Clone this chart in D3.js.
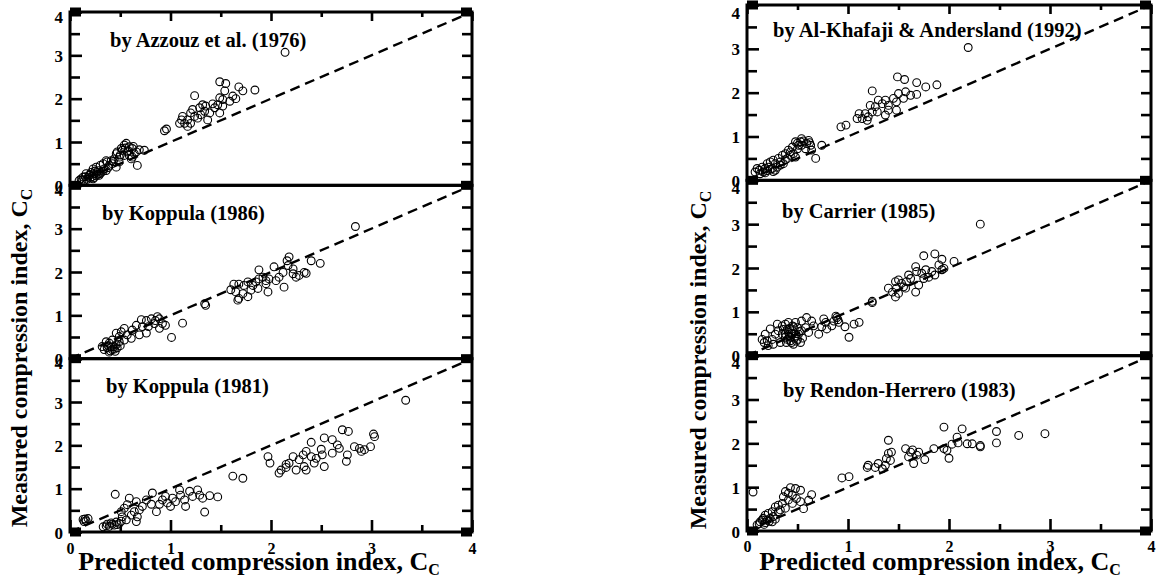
<!DOCTYPE html>
<html>
<head>
<meta charset="utf-8">
<script src="https://cdn.jsdelivr.net/npm/d3@7/dist/d3.min.js"></script>
<style>
  body { margin: 0; background: #fff; }
  svg text { font-family: "Liberation Serif", "Times New Roman", serif; font-weight: bold; fill: #000; }
</style>
</head>
<body>
<svg id="chart" width="1161" height="587"></svg>
<script>
// Predicted vs measured compression index, [predicted, measured]
const azzouz1976 = [
  [2.14,3.07],[1.49,2.39],[1.55,2.35],[1.68,2.27],[1.72,2.18],[1.84,2.20],[1.24,2.07],[1.54,2.18],[1.52,1.98],[1.59,1.94],
  [1.65,2.00],[1.49,2.02],[1.47,1.86],[1.44,1.79],[1.42,1.88],[1.35,1.83],[1.32,1.86],[1.29,1.79],[1.22,1.75],[1.20,1.67],
  [1.24,1.59],[1.30,1.63],[1.34,1.71],[1.39,1.67],[1.37,1.51],[1.49,1.67],[1.11,1.51],[1.14,1.43],[1.17,1.36],[1.09,1.43],
  [1.12,1.59],[1.17,1.51],[1.20,1.43],[1.27,1.55],[1.62,2.06],[1.52,1.83],[0.94,1.26],[0.96,1.30],
  [0.74,0.81],[0.56,0.97],[0.54,0.93],[0.59,0.89],[0.62,0.85],[0.66,0.77],[0.67,0.46],[0.51,0.85],[0.47,0.77],[0.49,0.65],
  [0.44,0.61],[0.46,0.73],[0.41,0.57],[0.37,0.54],[0.36,0.57],[0.33,0.50],[0.30,0.46],[0.26,0.42],[0.23,0.38],[0.21,0.30],
  [0.16,0.27],[0.13,0.19],[0.11,0.15],[0.09,0.11],[0.18,0.19],[0.24,0.27],[0.28,0.34],[0.31,0.30],[0.34,0.38],[0.39,0.46],
  [0.42,0.50],[0.54,0.69],[0.59,0.69],[0.62,0.65],[0.57,0.77],[0.52,0.81],[0.64,0.73],[0.61,0.61],[0.49,0.54],[0.46,0.42],
  [0.36,0.34],[0.29,0.23],[0.23,0.15],[0.19,0.23],[0.14,0.11],[0.15,0.20],[0.20,0.25],[0.22,0.20],[0.26,0.22],[0.17,0.14],
  [0.12,0.12],[0.27,0.30],[0.25,0.33],[0.20,0.17],[0.30,0.27],[0.24,0.18],[0.28,0.26],[0.33,0.33],[0.38,0.41],[0.43,0.55],
  [0.50,0.70],[0.55,0.86],[0.58,0.80],[0.63,0.90],[0.69,0.82]
];
const koppula1986 = [
  [2.84,3.05],[2.18,2.35],[2.16,2.26],[2.40,2.26],[2.49,2.20],[1.88,2.05],[2.03,2.12],[2.17,2.15],[2.12,1.99],[2.22,1.96],
  [2.28,1.92],[2.33,1.99],[2.35,1.97],[2.08,1.88],[1.98,1.84],[1.95,1.80],[1.92,1.88],[1.88,1.84],[1.85,1.77],[1.82,1.69],
  [1.77,1.77],[1.73,1.69],[1.68,1.72],[1.63,1.72],[1.60,1.59],[1.65,1.54],[1.68,1.39],[1.77,1.43],[1.67,1.35],[1.72,1.50],
  [1.80,1.58],[1.97,1.54],[2.05,1.80],[2.13,1.65],[2.25,1.88],[2.22,2.07],[1.95,1.73],[1.87,1.62],
  [1.34,1.27],[1.35,1.23],[1.12,0.82],[1.01,0.49],
  [0.87,0.97],[0.81,0.92],[0.76,0.88],[0.84,0.81],[0.92,0.81],[0.95,0.77],[0.89,0.70],[0.72,0.74],[0.66,0.77],[0.62,0.66],
  [0.76,0.59],[0.69,0.55],[0.54,0.70],[0.57,0.55],[0.49,0.51],[0.51,0.62],[0.46,0.59],[0.42,0.43],[0.46,0.32],[0.39,0.36],
  [0.37,0.25],[0.34,0.21],[0.42,0.21],[0.47,0.25],[0.39,0.15],[0.32,0.28],[0.36,0.39],[0.44,0.28],[0.49,0.39],[0.54,0.43],
  [0.61,0.47],[0.78,0.74],[0.85,0.88],[0.89,0.92],[0.71,0.90],[0.40,0.18],[0.44,0.22],[0.41,0.27],[0.45,0.17],[0.38,0.30],
  [0.50,0.30]
];
const koppula1981 = [
  [3.34,3.04],[2.71,2.36],[2.77,2.32],[3.02,2.26],[3.03,2.20],[2.53,2.17],[2.61,2.13],[2.66,2.01],[2.68,1.93],[2.40,2.07],
  [2.50,1.91],[2.51,1.78],[2.83,1.97],[2.88,1.93],[2.90,1.86],[2.99,1.97],[2.93,1.90],[2.76,1.78],[2.75,1.63],[2.61,1.82],
  [2.53,1.51],[2.43,1.59],[2.40,1.74],[2.35,1.86],[2.32,1.78],[2.28,1.67],[2.33,1.51],[2.35,1.43],[2.25,1.43],[2.22,1.74],
  [2.18,1.59],[2.15,1.56],[2.10,1.43],[2.08,1.36],[2.15,1.49],[1.97,1.74],[1.99,1.59],[2.45,1.70],
  [1.62,1.29],[1.72,1.24],[0.45,0.87],[1.34,0.46],
  [1.47,0.81],[1.39,0.84],[1.27,0.97],[1.19,0.94],[1.09,0.97],[1.10,0.85],[1.22,0.82],[1.14,0.74],[1.05,0.70],[1.00,0.59],
  [1.02,0.78],[0.95,0.82],[0.92,0.74],[0.97,0.67],[0.89,0.64],[0.82,0.90],[0.76,0.74],[0.81,0.64],[0.72,0.59],[0.69,0.51],
  [0.64,0.47],[0.59,0.78],[0.66,0.70],[0.57,0.63],[0.54,0.55],[0.51,0.47],[0.61,0.39],[0.67,0.35],[0.66,0.24],[0.52,0.35],
  [0.56,0.28],[1.29,0.85],[1.32,0.78],[1.15,0.59],[0.86,0.47],
  [0.13,0.29],[0.16,0.26],[0.18,0.31],[0.14,0.24],[0.15,0.30],[0.33,0.12],[0.37,0.18],[0.41,0.21],[0.46,0.23],[0.49,0.20],
  [0.36,0.14],[0.44,0.16],[0.39,0.13],[0.42,0.18],[0.47,0.17],[0.51,0.25]
];
const alKhafaji1992 = [
  [2.19,3.03],[1.49,2.36],[1.56,2.30],[1.68,2.23],[1.77,2.13],[1.88,2.18],[1.24,2.04],[1.50,1.98],[1.57,2.02],[1.62,1.94],
  [1.68,1.96],[1.55,1.87],[1.48,1.79],[1.45,1.87],[1.40,1.71],[1.48,1.60],[1.37,1.83],[1.30,1.83],[1.34,1.75],[1.27,1.68],
  [1.22,1.71],[1.24,1.56],[1.37,1.49],[1.40,1.60],[1.11,1.52],[1.14,1.41],[1.19,1.37],[1.09,1.41],[1.17,1.52],[1.20,1.45],
  [1.29,1.56],[0.93,1.22],[0.98,1.26],
  [0.74,0.80],[0.54,0.95],[0.53,0.88],[0.61,0.91],[0.63,0.80],[0.68,0.50],[0.48,0.88],[0.45,0.76],[0.50,0.72],[0.41,0.69],
  [0.46,0.61],[0.38,0.61],[0.35,0.57],[0.31,0.50],[0.26,0.46],[0.23,0.42],[0.20,0.38],[0.15,0.30],[0.12,0.23],[0.08,0.19],
  [0.10,0.27],[0.18,0.27],[0.21,0.30],[0.28,0.38],[0.33,0.42],[0.40,0.50],[0.43,0.57],[0.54,0.80],[0.58,0.72],[0.64,0.69],
  [0.59,0.84],[0.51,0.80],[0.48,0.53],[0.36,0.38],[0.25,0.27],[0.16,0.19],[0.13,0.15],[0.28,0.23],[0.20,0.22],[0.23,0.25],
  [0.30,0.30],[0.18,0.17],[0.26,0.20],[0.33,0.35],[0.38,0.47],[0.43,0.65],[0.50,0.85],[0.56,0.90],[0.62,0.86]
];
const carrier1985 = [
  [2.31,3.00],[1.75,2.28],[1.86,2.32],[1.93,2.20],[2.05,2.15],[1.95,1.99],[1.90,2.07],[1.67,2.03],[1.68,1.92],[1.77,1.96],
  [1.83,1.92],[1.86,1.84],[1.75,1.76],[1.80,1.79],[1.70,1.61],[1.67,1.45],[1.62,1.76],[1.58,1.69],[1.53,1.65],[1.50,1.73],
  [1.47,1.69],[1.48,1.54],[1.47,1.34],[1.44,1.45],[1.40,1.54],[1.57,1.54],[1.60,1.84],[1.55,1.57],[1.50,1.42],[1.93,1.96],
  [1.73,1.88],[1.24,1.21],[1.24,1.24],
  [0.89,0.87],[0.86,0.79],[0.91,0.76],[0.84,0.68],[0.78,0.76],[0.74,0.66],[0.79,0.61],[0.71,0.49],[1.01,0.42],[1.06,0.72],
  [1.11,0.76],[0.97,0.66],[0.76,0.84],[0.88,0.90],[0.90,0.82],
  [0.59,0.87],[0.54,0.79],[0.48,0.76],[0.45,0.68],[0.41,0.76],[0.38,0.72],[0.35,0.68],[0.30,0.72],[0.23,0.61],[0.18,0.49],
  [0.17,0.30],[0.15,0.37],[0.20,0.34],[0.25,0.37],[0.28,0.49],[0.31,0.57],[0.35,0.49],[0.38,0.42],[0.41,0.53],[0.45,0.57],
  [0.48,0.45],[0.51,0.49],[0.54,0.57],[0.58,0.64],[0.61,0.53],[0.64,0.79],[0.66,0.68],[0.50,0.37],[0.43,0.34],[0.46,0.26],
  [0.53,0.30],[0.26,0.26],[0.21,0.23],[0.33,0.30],[0.40,0.37],[0.36,0.60],[0.50,0.64],[0.42,0.45],[0.44,0.50],[0.47,0.40],
  [0.40,0.60],[0.46,0.66],[0.52,0.55],[0.38,0.50],[0.43,0.42],[0.49,0.33],[0.55,0.40],[0.44,0.30],[0.39,0.30],[0.42,0.62]
];
const rendonHerrero1983 = [
  [1.95,2.37],[2.13,2.33],[2.69,2.18],[2.95,2.22],[2.47,2.27],[2.47,2.01],[2.31,1.95],[2.31,1.92],[2.23,1.99],[2.18,1.99],
  [2.09,2.01],[2.08,2.14],[2.03,1.98],[1.98,1.84],[2.00,1.66],[1.95,1.88],[1.85,1.88],[1.76,1.63],[1.65,1.54],[1.68,1.73],
  [1.62,1.80],[1.57,1.88],[1.60,1.69],[1.64,1.85],[1.70,1.80],[1.40,2.07],[1.40,1.77],[1.43,1.80],[1.38,1.65],[1.42,1.61],
  [1.30,1.54],[1.27,1.45],[1.20,1.50],[1.19,1.45],[1.34,1.42],[1.37,1.50],[0.94,1.21],[1.01,1.24],[0.06,0.89],
  [0.64,0.83],[0.56,0.51],[0.53,0.93],[0.48,0.97],[0.43,0.99],[0.45,0.82],[0.41,0.86],[0.38,0.90],[0.36,0.78],[0.49,0.74],
  [0.53,0.67],[0.45,0.63],[0.35,0.63],[0.31,0.59],[0.28,0.55],[0.38,0.52],[0.33,0.48],[0.25,0.44],[0.21,0.40],[0.18,0.36],
  [0.16,0.29],[0.20,0.25],[0.13,0.21],[0.12,0.17],[0.10,0.14],[0.23,0.29],[0.26,0.33],[0.15,0.25],[0.18,0.19],[0.25,0.21],
  [0.31,0.44],[0.41,0.71],[0.61,0.70],[0.22,0.22],[0.17,0.15],[0.28,0.27]
];

const panelTitles = [
  "by Azzouz et al. (1976)", "by Koppula (1986)", "by Koppula (1981)",
  "by Al-Khafaji & Andersland (1992)", "by Carrier (1985)", "by Rendon-Herrero (1983)"
];
const panelData = [azzouz1976, koppula1986, koppula1981, alKhafaji1992, carrier1985, rendonHerrero1983];
const axisDomain = [0, 4];
const tickValues = [0, 0.5, 1, 1.5, 2, 2.5, 3, 3.5, 4];
const tickLabels = ["0", "", "1", "", "2", "", "3", "", "4"];
const yAxisTitle = "Measured compression index, C";
const xAxisTitle = "Predicted compression index, C";
const titleSubscript = "C";

// Page layout of the two columns of three stacked panels
const columns = [
  { left: 70,  right: 472,  top: 12, bottom: 532, yTitleX: 27,  yTitleMid: 358, xTitleX: 259, xTitleY: 570, tickLabelY: 554 },
  { left: 747, right: 1151, top: 5,  bottom: 531, yTitleX: 706, yTitleMid: 360, xTitleX: 940, xTitleY: 570, tickLabelY: 552 }
];
const titleOffsets = [[40, 35], [32, 35], [36, 34], [26, 32], [35, 38], [36, 41]];
const topLabelShift = [4, 7];

const svg = d3.select("#chart");

columns.forEach((col, c) => {
  const panelH = (col.bottom - col.top) / 3;
  const x = d3.scaleLinear().domain(axisDomain).range([col.left, col.right]);

  for (let p = 0; p < 3; p++) {
    const idx = c * 3 + p;
    const pTop = col.top + p * panelH;
    const pBot = pTop + panelH;
    const y = d3.scaleLinear().domain(axisDomain).range([pBot, pTop]);
    const g = svg.append("g");

    // y = x reference line
    g.append("line")
      .attr("x1", x(0)).attr("y1", y(0)).attr("x2", x(4)).attr("y2", y(4))
      .attr("stroke", "#000").attr("stroke-width", 2.4).attr("stroke-dasharray", "10,6");

    // data points
    g.append("g").selectAll("circle").data(panelData[idx]).join("circle")
      .attr("cx", d => x(d[0])).attr("cy", d => y(d[1])).attr("r", 3.9)
      .attr("fill", "none").attr("stroke", "#000").attr("stroke-width", 1.1);

    // left axis with inward ticks
    const left = g.append("g").attr("transform", `translate(${col.left},0)`)
      .call(d3.axisLeft(y).tickValues(tickValues).tickSize(-11).tickPadding(7)
        .tickFormat((d, i) => tickLabels[i]));
    left.select(".domain").remove();
    left.selectAll(".tick line").attr("stroke-width", 2.6)
      .attr("x2", d => (d % 1 === 0 ? 12 : 10));
    left.selectAll(".tick text").style("font-size", "17px")
      .attr("dy", d => (d === 4 ? `${0.36 * 17 + topLabelShift[c]}px` : "0.36em"));

    // right axis with inward ticks
    const right = g.append("g").attr("transform", `translate(${col.right},0)`)
      .call(d3.axisRight(y).tickValues(tickValues).tickSize(-10).tickFormat(""));
    right.select(".domain").remove();
    right.selectAll(".tick line").attr("stroke-width", 2.6);

    // top ticks on the first panel, bottom ticks and labels on the last one
    if (p === 0) {
      const top = g.append("g").attr("transform", `translate(0,${pTop})`)
        .call(d3.axisTop(x).tickValues(tickValues).tickSize(-8).tickFormat(""));
      top.select(".domain").remove();
      top.selectAll(".tick line").attr("stroke-width", 2.6)
        .attr("y2", d => (d % 1 === 0 ? 9 : 5));
    }
    if (p === 2) {
      const bottom = g.append("g").attr("transform", `translate(0,${pBot})`)
        .call(d3.axisBottom(x).tickValues(tickValues).tickSize(-12)
          .tickFormat((d, i) => tickLabels[i]));
      bottom.select(".domain").remove();
      bottom.selectAll(".tick line").attr("stroke-width", 2.6)
        .attr("y2", d => (d % 1 === 0 ? -12 : -7));
      bottom.selectAll(".tick text").style("font-size", "16px")
        .attr("y", null).attr("dy", null)
        .attr("transform", `translate(0,${col.tickLabelY - pBot})`);
    }

    // frame
    g.append("rect")
      .attr("x", col.left).attr("y", pTop).attr("width", col.right - col.left).attr("height", panelH)
      .attr("fill", "none").attr("stroke", "#000").attr("stroke-width", 3);

    // panel title
    g.append("text")
      .attr("x", col.left + titleOffsets[idx][0]).attr("y", pTop + titleOffsets[idx][1])
      .style("font-size", "20.5px").text(panelTitles[idx]);
  }

  // heavy corner marks where panels meet
  d3.range(4).forEach(k => {
    const yy = col.top + k * panelH;
    [col.left, col.right - 11].forEach(xx => {
      svg.append("rect").attr("x", xx).attr("y", yy - 4.5).attr("width", 11).attr("height", 9).attr("fill", "#000");
    });
  });

  // axis titles
  const xt = svg.append("text").attr("x", col.xTitleX).attr("y", col.xTitleY)
    .attr("text-anchor", "middle").style("font-size", "26px");
  xt.append("tspan").text(xAxisTitle);
  xt.append("tspan").attr("dy", 5).style("font-size", "16px").text(titleSubscript);

  const yt = svg.append("text")
    .attr("transform", `translate(${col.yTitleX},${col.yTitleMid}) rotate(-90)`)
    .attr("text-anchor", "middle").style("font-size", "24px");
  yt.append("tspan").text(yAxisTitle);
  yt.append("tspan").attr("dy", 5).style("font-size", "16px").text(titleSubscript);
});
</script>
</body>
</html>
